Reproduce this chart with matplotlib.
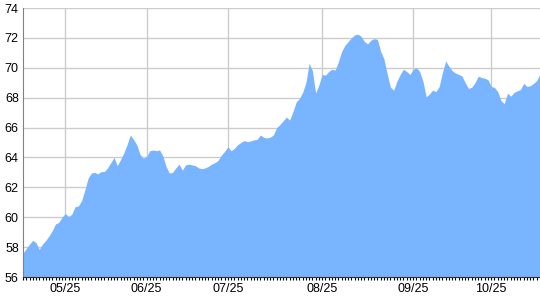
import matplotlib.pyplot as plt
import numpy as np

# values, one per day index
values = [
    57.6, 57.9, 58.2, 58.45, 58.3, 57.85, 58.2, 58.45, 58.75, 59.1,
    59.55, 59.65, 60.0, 60.25, 60.05, 60.2, 60.7, 60.75, 61.1, 61.8,
    62.6, 62.95, 63.0, 62.9, 63.05, 63.05, 63.3, 63.65, 64.0, 63.45,
    63.85, 64.3, 64.85, 65.5, 65.2, 64.85, 64.2, 63.95, 64.05, 64.45,
    64.5, 64.45, 64.5, 64.1, 63.4, 62.95, 63.0, 63.3, 63.55, 63.15,
    63.5, 63.55, 63.5, 63.45, 63.3, 63.25, 63.3, 63.4, 63.55, 63.65,
    63.8, 64.15, 64.4, 64.7, 64.45, 64.6, 64.85, 65.0, 65.13, 65.05,
    65.1, 65.18, 65.2, 65.5, 65.35, 65.3, 65.35, 65.5, 66.0, 66.2,
    66.45, 66.7, 66.5, 67.05, 67.7, 67.95, 68.35, 69.0, 70.3, 69.8,
    68.3, 68.85, 69.55, 69.5, 69.75, 69.9, 69.85, 70.4, 71.1, 71.5,
    71.75, 72.0, 72.2, 72.25, 72.1, 71.75, 71.6, 71.85, 71.95, 71.9,
    71.1, 70.6, 69.6, 68.7, 68.5, 69.1, 69.55, 69.9, 69.75, 69.55,
    69.9, 70.0, 69.75, 69.1, 68.05, 68.25, 68.5, 68.4, 68.75, 69.7,
    70.45, 70.1, 69.8, 69.65, 69.55, 69.45, 69.0, 68.62, 68.7, 69.0,
    69.43, 69.35, 69.3, 69.2, 68.75, 68.68, 68.4, 67.8, 67.6, 68.3,
    68.1, 68.35, 68.45, 68.55, 68.95, 68.75, 68.8, 68.95, 69.15, 69.57,
]
label_idx = [13, 38, 63, 92, 120, 144]
labels = ['05/25', '06/25', '07/25', '08/25', '09/25', '10/25']
y_ticks = [56, 58, 60, 62, 64, 66, 68, 70, 72, 74]

plt.rcParams['font.family'] = ['Liberation Sans', 'DejaVu Sans']

x = np.arange(len(values))

fig = plt.figure(figsize=(5.4, 3.0), dpi=100)
ax = fig.add_axes([23 / 540, 23 / 300, 517 / 540, 269 / 300])

ax.fill_between(x, values, 56, color='#78b4ff', lw=0, zorder=2)

ax.set_xlim(0, len(values) - 1)
ax.set_ylim(56, 74)

ax.set_yticks(y_ticks)
ax.set_xticks(label_idx)
ax.set_xticklabels(labels)
ax.set_xticks(x, minor=True)

ax.grid(True, which='major', color='#cccccc', lw=1.0, zorder=0)
ax.set_axisbelow(True)

ax.tick_params(axis='y', length=0, pad=3, labelsize=9, colors='black')
ax.tick_params(axis='x', which='both', direction='out', length=2.5, width=0.8,
               color='black', labelsize=9, pad=2)

ax.spines['right'].set_visible(False)
ax.spines['top'].set_visible(False)
ax.spines['left'].set_color('#808080')
ax.spines['bottom'].set_color('#303030')

fig.savefig('out.png', dpi=100)
